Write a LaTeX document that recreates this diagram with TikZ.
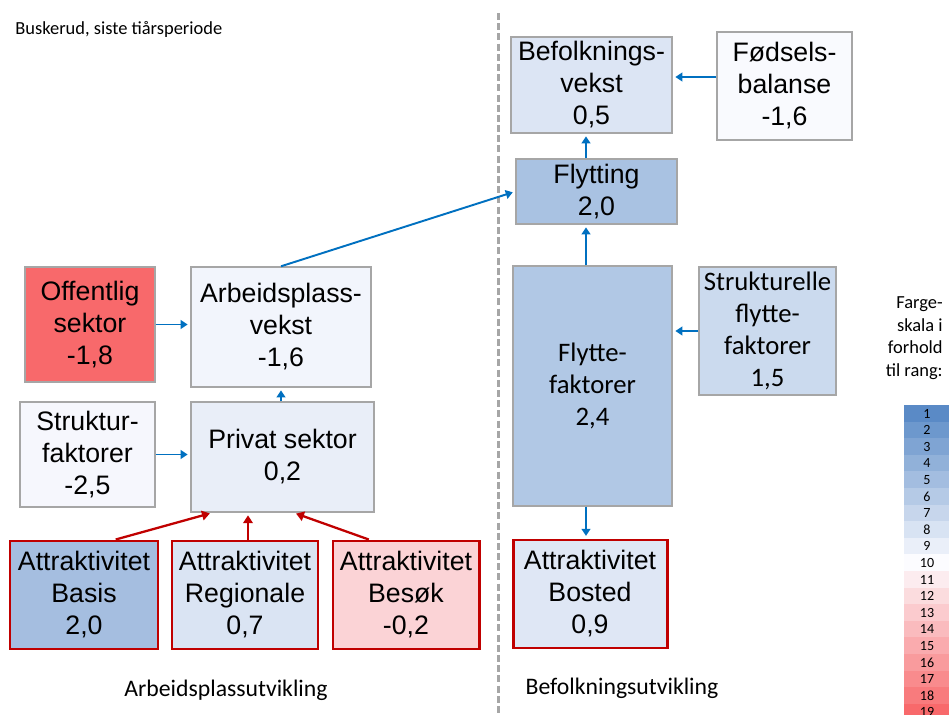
\documentclass[tikz,border=0pt]{standalone}
\usepackage{fontspec}
\setmainfont{Liberation Sans}
\newfontfamily\calibfont{Carlito}
\usepackage{tikz}
\usetikzlibrary{arrows.meta, calc, positioning}
\definecolor{arrow_blue}{RGB}{0, 112, 192}
\definecolor{frame_red}{RGB}{192, 0, 0}
\definecolor{frame_gray}{RGB}{166, 166, 166}
\definecolor{scale_blue}{RGB}{90, 138, 198}
\definecolor{scale_white}{RGB}{252, 252, 255}
\definecolor{scale_red}{RGB}{248, 105, 107}

\begin{document}
\begin{tikzpicture}[
        x=0.02cm, y=-0.02cm,
        every node/.style={inner sep=0pt},
        box/.style={draw=frame_gray, line width=0.8pt, align=center, font=\fontsize{15.2}{18.2}\selectfont},
        calibbox/.style={box, font=\calibfont\fontsize{15.2}{18.2}\selectfont},
        attr/.style={box, draw=frame_red, line width=1.7pt},
        boxsize/.style 2 args={minimum width=#1*0.02cm, minimum height=#2*0.02cm},
        bluearrow/.style={-{Triangle[width=5pt,length=4pt]}, line width=1.1pt, arrow_blue, shorten >=1.5pt},
        redarrow/.style={-{Triangle[width=5.5pt,length=4.5pt]}, line width=1.3pt, frame_red, shorten >=1.5pt}
    ]
        \useasboundingbox (0,0) rectangle (949,715);

        % -------- Tittel og skillelinje --------
        \node[anchor=west, font=\calibfont\fontsize{10.5}{12}\selectfont] (title) at (15,29) {Buskerud, siste tiårsperiode};
        \draw[frame_gray, line width=1.7pt, dash pattern=on 4pt off 1.8pt] (498,13) -- (498,715);

        % -------- Arbeidsplassutvikling --------
        \node[box, boxsize={130}{115}, fill=scale_red] (offentlig) at (90,324.5) {Offentlig\\sektor\\-1,8};
        \node[box, boxsize={180}{120}, fill=scale_blue!6!scale_white] (arbvekst) at (281,327) {Arbeidsplass-\\vekst\\-1,6};
        \node[box, boxsize={135}{105}, fill=scale_blue!4!scale_white] (struktur) at (87.5,454.5) {Struktur-\\faktorer\\-2,5};
        \node[box, boxsize={183}{110}, fill=scale_blue!12!scale_white] (privat) at (282.5,457) {Privat sektor\\0,2};
        \node[attr, boxsize={148}{108}, fill=scale_blue!54!scale_white] (basis) at (84,595) {Attraktivitet\\Basis\\2,0};
        \node[attr, boxsize={146}{108}, fill=scale_blue!21!scale_white] (regional) at (245,595) {Attraktivitet\\Regionale\\0,7};
        \node[attr, boxsize={146}{108}, fill=scale_red!28!scale_white] (besok) at (406,595) {Attraktivitet\\Besøk\\-0,2};
        \node[font=\calibfont\fontsize{13.5}{15}\selectfont] (arblabel) at (226,690) {Arbeidsplassutvikling};

        \draw[bluearrow] (offentlig.east) -- (arbvekst.west |- offentlig.east);
        \draw[bluearrow] (struktur.east) -- (privat.west |- struktur.east);
        \draw[bluearrow] (privat.north -| arbvekst.south) -- (arbvekst.south);
        \draw[redarrow] ($(basis.north west)!0.71!(basis.north east)$) -- ($(privat.south west)!0.12!(privat.south east)$);
        \draw[redarrow] (regional.north -| 248,0) -- (privat.south -| 248,0);
        \draw[redarrow] ($(besok.north west)!0.25!(besok.north east)$) -- ($(privat.south west)!0.56!(privat.south east)$);

        % -------- Befolkningsutvikling --------
        \coordinate (col) at (586,0);
        \coordinate (row) at (0,77);
        \node[box, boxsize={161}{96}, fill=scale_blue!20!scale_white] (befvekst) at (591.5,85) {Befolknings-\\vekst\\0,5};
        \node[box, boxsize={135}{108}, fill=scale_blue!2!scale_white] (fodsel) at (784.5,86) {Fødsels-\\balanse\\-1,6};
        \node[box, boxsize={161}{65}, fill=scale_blue!51!scale_white] (flytting) at (596.5,191.5) {Flytting\\2,0};
        \node[calibbox, boxsize={159}{240}, fill=scale_blue!46!scale_white] (flyttfakt) at (592.5,386) {Flytte-\\faktorer\\2,4};
        \node[calibbox, boxsize={137}{128}, fill=scale_blue!30!scale_white] (strukflytt) at (767.5,331) {Strukturelle\\flytte-\\faktorer\\1,5};
        \node[attr, boxsize={154}{108}, fill=scale_blue!18!scale_white] (bosted) at (590,594) {Attraktivitet\\Bosted\\0,9};
        \node[font=\calibfont\fontsize{13.5}{15}\selectfont] (beflabel) at (622,688) {Befolkningsutvikling};

        \draw[bluearrow] (arbvekst.north) -- (flytting.west);
        \draw[bluearrow] (flytting.north -| col) -- (befvekst.south -| col);
        \draw[bluearrow] (fodsel.west |- row) -- (befvekst.east |- row);
        \draw[bluearrow] (flyttfakt.north -| col) -- (flytting.south -| col);
        \draw[bluearrow] (strukflytt.west) -- (flyttfakt.east |- strukflytt.west);
        \draw[bluearrow] (flyttfakt.south -| col) -- (bosted.north -| col);

        % -------- Fargeskala --------
        \node[anchor=east, align=right, font=\calibfont\fontsize{10.5}{12.8}\selectfont] (scaletitle) at (943,338) {Farge-\\skala i\\forhold\\til rang:};
        \begin{scope}
            \clip (0,0) rectangle (949,715);
            \foreach \r in {1,...,19}{
                \pgfmathsetmacro\top{405+16.6*(\r-1)}
                \ifnum\r<11
                    \pgfmathtruncatemacro\p{(10-\r)*100/9}
                    \def\rankcol{scale_blue!\p!scale_white}
                \else
                    \pgfmathtruncatemacro\p{(\r-10)*100/9}
                    \def\rankcol{scale_red!\p!scale_white}
                \fi
                \fill[\rankcol] (904,\top) rectangle (955,\top+16.6);
                \node[font=\calibfont\fontsize{8}{9}\selectfont] (rank\r) at (927,\top+8.5) {\r};
            }
        \end{scope}

    \end{tikzpicture}
\end{document}
